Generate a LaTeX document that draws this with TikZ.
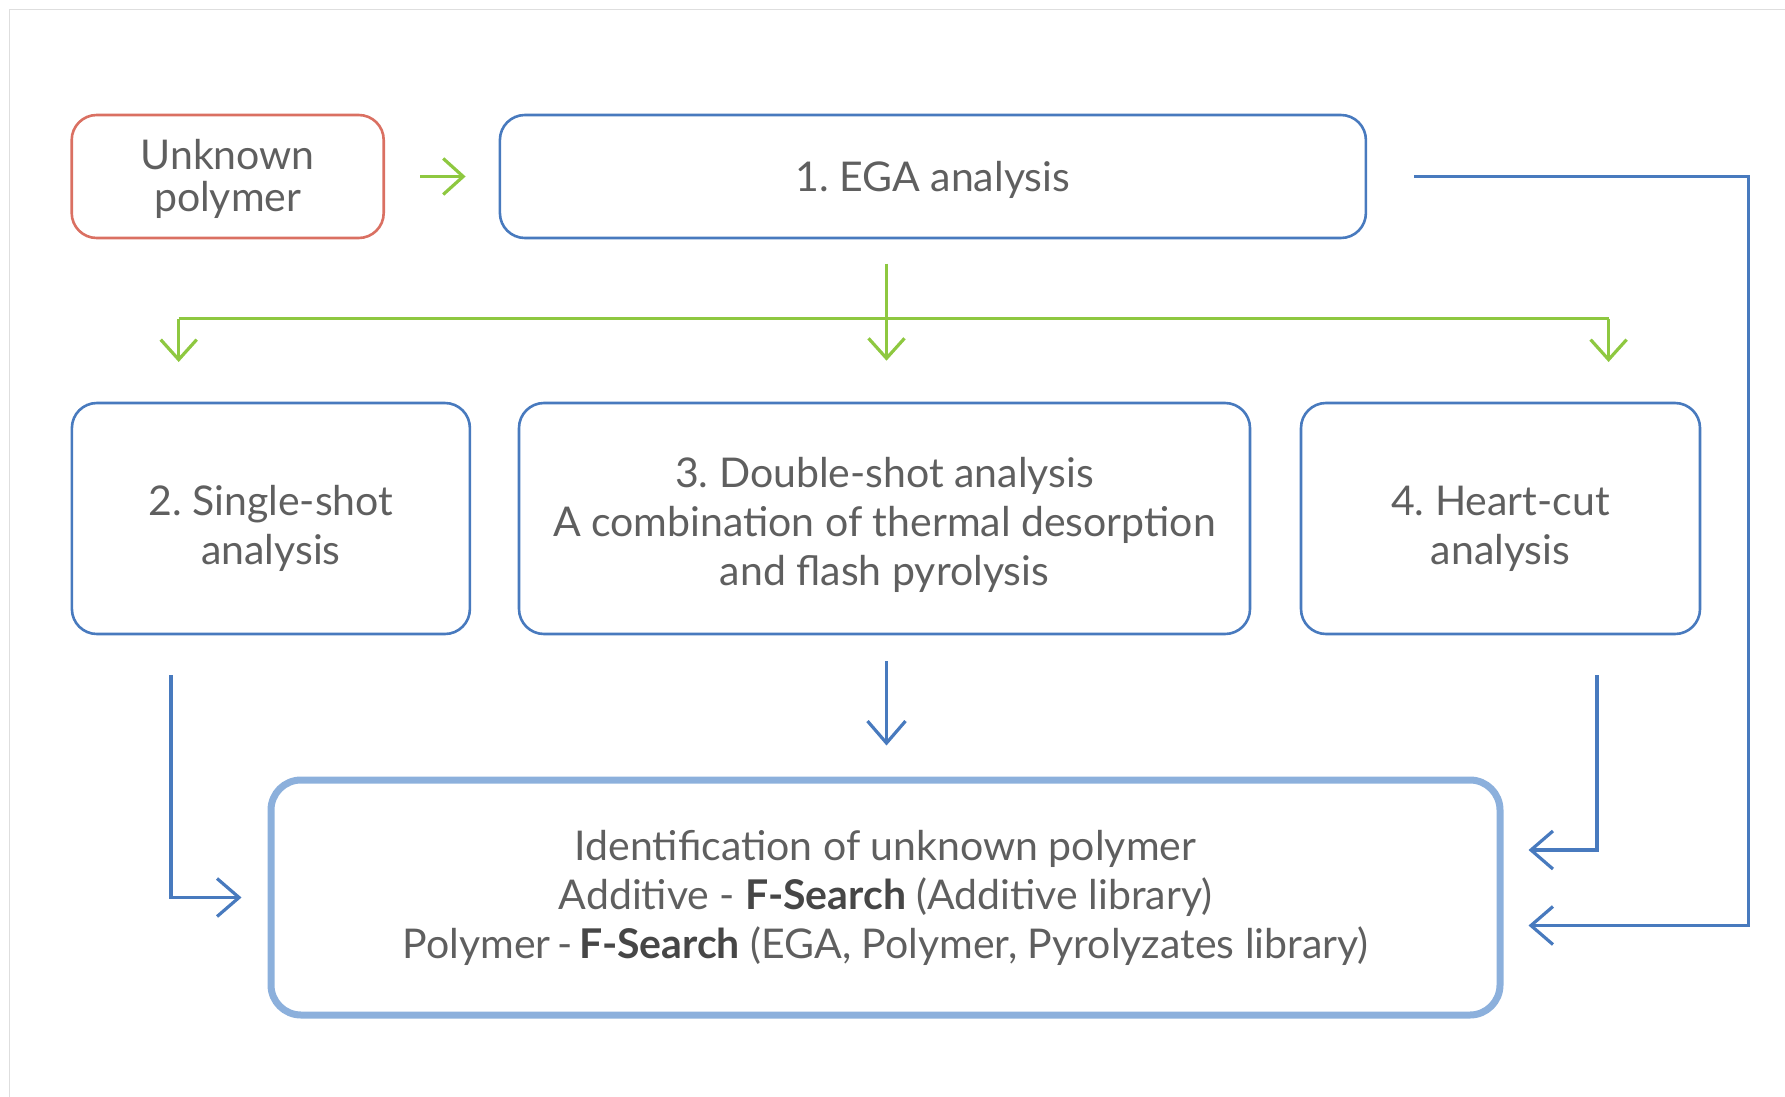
\documentclass[tikz,border=0pt]{standalone}
\usepackage{fontspec}
\setmainfont{Lato}
\usetikzlibrary{arrows.meta}
\frenchspacing
\definecolor{txt}{RGB}{95,95,95}
\definecolor{txtb}{RGB}{70,70,70}
\definecolor{redb}{RGB}{218,112,98}
\definecolor{blueb}{RGB}{72,122,190}
\definecolor{bluel}{RGB}{140,176,220}
\definecolor{greenc}{RGB}{142,200,64}
\definecolor{framec}{RGB}{222,222,222}
\tikzset{
  box/.style={draw=blueb, line width=2.6pt, rounded corners=25pt, inner sep=0pt},
  lbl/.style={align=center, text=txt, inner sep=0pt, font=\fontsize{41}{49}\selectfont},
  redbox/.style={box, draw=redb},
  bigbox/.style={box, draw=bluel, line width=7pt, rounded corners=30pt},
  greenln/.style={draw=greenc, line width=3.2pt},
  greenarr/.style={greenln, -{Straight Barb[length=20pt,width=36pt,line width=3.2pt]}},
  bluearr/.style={draw=blueb, line width=3.2pt, -{Straight Barb[length=22pt,width=38pt,line width=3.2pt]}},
}
\begin{document}
\begin{tikzpicture}[x=1pt,y=-1pt]
\useasboundingbox (0,0) rectangle (1785,1097);
\draw[framec, line width=1.5pt] (9.5,1097) -- (9.5,9.5) -- (1785,9.5);

\node[redbox, minimum width=312pt, minimum height=123pt,
  label={[lbl, font=\fontsize{41}{42}\selectfont, yshift=-2pt]center:{Unknown\\polymer}}] (unk) at (227.7,176.5) {};
\node[box, minimum width=866pt, minimum height=123pt,
  label={[lbl, yshift=-3.5pt]center:{1. EGA analysis}}] (ega) at (932.9,176.5) {};
\node[box, minimum width=398pt, minimum height=231pt,
  label={[lbl, yshift=-10pt]center:{2. Single-shot\\analysis}}] (b2) at (270.9,518.5) {};
\node[box, minimum width=731pt, minimum height=231pt,
  label={[lbl, yshift=-6pt]center:{3. Double-shot analysis\\A combination of thermal desorption\\and flash pyrolysis}}] (b3) at (884.5,518.5) {};
\node[box, minimum width=399pt, minimum height=231pt,
  label={[lbl, yshift=-10pt]center:{4. Heart-cut\\analysis}}] (b4) at (1500.5,518.5) {};
\node[bigbox, minimum width=1229pt, minimum height=235pt,
  label={[lbl]center:{Identification of unknown polymer\\Additive - {\color{txtb}\bfseries F-Search} (Additive library)\\Polymer\,-\,{\color{txtb}\bfseries F-Search} (EGA, Polymer, Pyrolyzates library)}}] (bot) at (885.5,897.5) {};

% green connectors
\draw[greenarr] ([xshift=35pt]unk.east) -- ([xshift=-33pt]ega.west);
\coordinate (gtop) at ([xshift=2pt,yshift=138pt]b3.north);
\coordinate (gL) at (178.7,318.8);
\coordinate (gR) at (1608.6,318.8);
\draw[greenln] (gL) -- (gR);
\draw[greenarr] (gtop) -- ([xshift=2pt,yshift=41pt]b3.north);
\draw[greenarr] (gL) -- ++(0,43.2);
\draw[greenarr] (gR) -- ++(0,43.2);

% blue connectors
\draw[bluearr] ([xshift=47pt]ega.east) -- ++(334.4,0) |- ([xshift=25pt,yshift=-28pt]bot.east);
\draw[bluearr] ([xshift=-100pt,yshift=-40pt]b2.south) |- ([xshift=-26pt]bot.west);
\draw[bluearr] ([xshift=2pt,yshift=-26pt]b3.south) -- ([xshift=1pt,yshift=31pt]bot.north);
\draw[bluearr] ([xshift=96.5pt,yshift=-40pt]b4.south) |- ([xshift=25pt,yshift=47.5pt]bot.east);
\end{tikzpicture}
\end{document}
